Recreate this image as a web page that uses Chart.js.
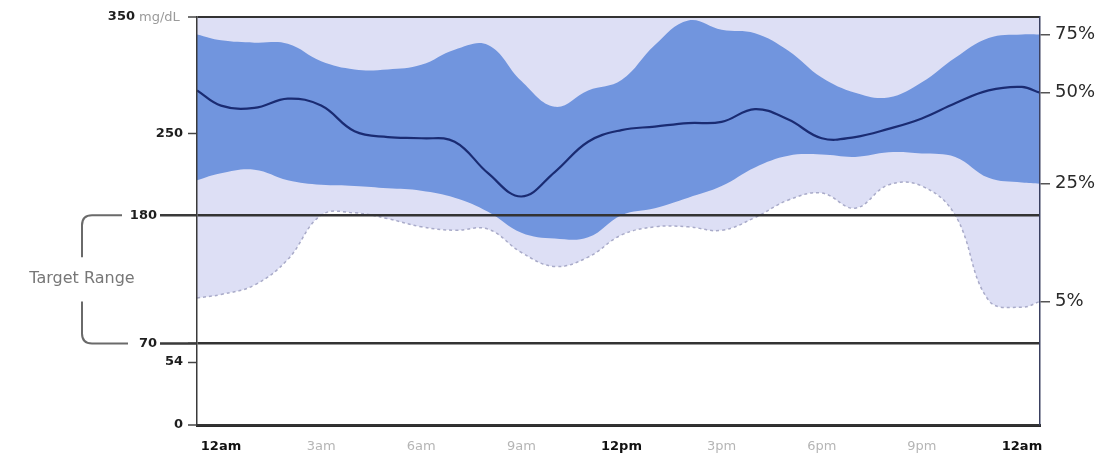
<!DOCTYPE html>
<html><head><meta charset="utf-8">
<script src="https://cdn.jsdelivr.net/npm/chart.js@4.4.1/dist/chart.umd.min.js"></script>
<style>html,body{margin:0;padding:0;background:#fff;} #wrap{width:1119px;height:466px;position:relative;}</style>
</head><body><div id="wrap"><canvas id="c"></canvas></div>
<script>
// hours of the day (0 = 12am, 24 = next 12am)
const hours = [-0.72, 0, 1, 2, 3, 4, 5, 6, 7, 8, 9, 10, 11, 12, 13, 14, 15, 16, 17, 18, 19, 20, 21, 22, 23, 24, 24.54];
const hourTicks = [0, 3, 6, 9, 12, 15, 18, 21, 24];
const hourLabels = ['12am', '3am', '6am', '9am', '12pm', '3pm', '6pm', '9pm', '12am'];
const glucoseTicks = [0, 54, 70, 180, 250, 350];
const targetLow = 70, targetHigh = 180;

// glucose percentiles (mg/dL)
const p95 = [350, 350, 350, 350, 350, 350, 350, 350, 350, 350, 350, 350, 350, 350, 350, 350, 350, 350, 350, 350, 350, 350, 350, 350, 350, 350, 350];
const p75 = [335, 330, 328, 327, 312, 305, 305, 309, 322, 326, 295, 273, 287, 296, 326, 347, 339, 336, 321, 298, 285, 281, 294, 315, 332, 335, 335];
const p50 = [287, 274, 272, 280, 274, 252, 247, 246, 243, 216, 196, 217, 243, 253, 256, 259, 260, 271, 262, 246, 247, 254, 263, 276, 287, 290, 285];
const p25 = [210, 216, 219, 210, 206, 205, 203, 201, 195, 183, 165, 160, 161, 180, 186, 195, 205, 221, 231, 232, 230, 234, 233, 230, 212, 208, 207];
const p5  = [109, 112, 120, 142, 180, 182, 177, 170, 167, 168, 148, 136, 144, 163, 170, 170, 167, 178, 193, 199, 186, 206, 205, 180, 107, 101, 106];

const percentileLabels = ['75%', '50%', '25%', '5%'];
const percentileSeries = [p75, p50, p25, p5];

const pts = arr => hours.map((h, i) => ({x: h, y: arr[i]}));
const FONT = '"DejaVu Sans"';

const sidePlugin = {
  id: 'side',
  afterDraw(chart) {
    const ctx = chart.ctx, y = chart.scales.y, area = chart.chartArea;
    const yHi = y.getPixelForValue(targetHigh), yLo = y.getPixelForValue(targetLow), yTop = y.getPixelForValue(350);
    ctx.save();
    ctx.strokeStyle = '#3a3a3a'; ctx.lineWidth = 2.5;
    ctx.beginPath();
    ctx.moveTo(160, yHi); ctx.lineTo(area.left, yHi);
    ctx.moveTo(160, yLo); ctx.lineTo(area.left, yLo);
    ctx.stroke();
    ctx.fillStyle = '#1e1e1e'; ctx.font = 'bold 13px ' + FONT; ctx.textAlign = 'right'; ctx.textBaseline = 'middle';
    ctx.fillText(String(targetHigh), 157, yHi);
    ctx.fillText(String(targetLow), 157, yLo);
    ctx.fillText('350', 135, yTop);
    ctx.font = '13px ' + FONT; ctx.fillStyle = '#9a9a9a'; ctx.textAlign = 'left';
    ctx.fillText('mg/dL', 139, yTop + 1);
    ctx.strokeStyle = '#6a6a6a'; ctx.lineWidth = 2;
    const bx = 82, r = 10;
    ctx.beginPath();
    ctx.moveTo(122, yHi); ctx.lineTo(bx + r, yHi); ctx.quadraticCurveTo(bx, yHi, bx, yHi + r); ctx.lineTo(bx, yHi + 42);
    ctx.stroke();
    ctx.beginPath();
    ctx.moveTo(bx, yLo - 42); ctx.lineTo(bx, yLo - r); ctx.quadraticCurveTo(bx, yLo, bx + r, yLo); ctx.lineTo(128, yLo);
    ctx.stroke();
    ctx.fillStyle = '#777'; ctx.font = '16px ' + FONT; ctx.textAlign = 'center';
    ctx.fillText('Target Range', bx, (yHi + yLo) / 2);
    ctx.restore();
  }
};

const isMain = v => v === 0 || v === 12 || v === 24;
const tr = 'rgba(0,0,0,0)';

new Chart(document.getElementById('c'), {
  type: 'line',
  data: {datasets: [
    {label: '95%', data: pts(p95), borderColor: tr, borderWidth: 0, pointRadius: 0, fill: false, order: 4},
    {label: '5%', data: pts(p5), borderColor: '#a9abc9', borderWidth: 1.5, borderDash: [3, 3], backgroundColor: '#dddff5', fill: {target: 0}, pointRadius: 0, order: 3},
    {label: '75%', data: pts(p75), borderColor: tr, borderWidth: 0, pointRadius: 0, fill: false, order: 2},
    {label: '25%', data: pts(p25), borderColor: tr, borderWidth: 0, backgroundColor: '#7195de', fill: {target: 2}, pointRadius: 0, order: 1},
    {label: '50%', data: pts(p50), borderColor: '#1a2b72', borderWidth: 2.2, fill: false, pointRadius: 0, order: 0}
  ]},
  options: {
    responsive: true, maintainAspectRatio: false, animation: false,
    layout: {padding: {top: 17, left: 0, right: 0, bottom: 0}},
    elements: {line: {tension: 0.4}},
    plugins: {legend: {display: false}, tooltip: {enabled: false}},
    scales: {
      x: {
        type: 'linear', min: -0.72, max: 24.54,
        afterBuildTicks: s => { s.ticks = hourTicks.map(v => ({value: v})); },
        afterFit: s => { s.height = 41; },
        grid: {display: false, drawTicks: false},
        border: {display: true, color: '#2a2a2a', width: 3, z: 1},
        ticks: {
          autoSkip: false, maxRotation: 0, padding: 14,
          callback: (v, i) => hourLabels[i],
          color: c => (c.tick && isMain(c.tick.value)) ? '#111' : '#b5b5b5',
          font: c => ({family: 'DejaVu Sans', size: 13, weight: (c.tick && isMain(c.tick.value)) ? 'bold' : 'normal'})
        }
      },
      y: {
        position: 'left', min: 0, max: 350,
        afterBuildTicks: s => { s.ticks = glucoseTicks.map(v => ({value: v})); },
        afterFit: s => { s.width = 197; },
        ticks: {
          autoSkip: false, padding: 5, color: '#1e1e1e',
          font: {family: 'DejaVu Sans', size: 13, weight: 'bold'},
          callback: v => (v === 350 || v === targetHigh || v === targetLow) ? '' : String(v)
        },
        grid: {
          z: 1, drawOnChartArea: true, tickLength: 9,
          color: c => { const v = c.tick && c.tick.value; return (v === 350 || v === targetHigh || v === targetLow || v === 0) ? '#333' : tr; },
          lineWidth: c => { const v = c.tick && c.tick.value; return (v === targetHigh || v === targetLow) ? 2.5 : ((v === 350 || v === 0) ? 2 : 1); },
          tickColor: '#444', tickWidth: 1.5
        },
        border: {display: true, color: '#3a3a3a', width: 1.5, z: 1}
      },
      y2: {
        position: 'right', min: 0, max: 350,
        afterBuildTicks: s => { s.ticks = percentileSeries.map(a => ({value: a[a.length - 1]})); },
        afterFit: s => { s.width = 79; },
        ticks: {
          autoSkip: false, padding: 5, color: '#2a2a2a',
          font: {family: 'DejaVu Sans', size: 18},
          callback: (v, i) => percentileLabels[i]
        },
        grid: {drawOnChartArea: false, tickLength: 10, color: '#555', lineWidth: 1.5},
        border: {display: true, color: '#3a4060', width: 1.5, z: 1}
      }
    }
  },
  plugins: [sidePlugin]
});
</script>
</body></html>
